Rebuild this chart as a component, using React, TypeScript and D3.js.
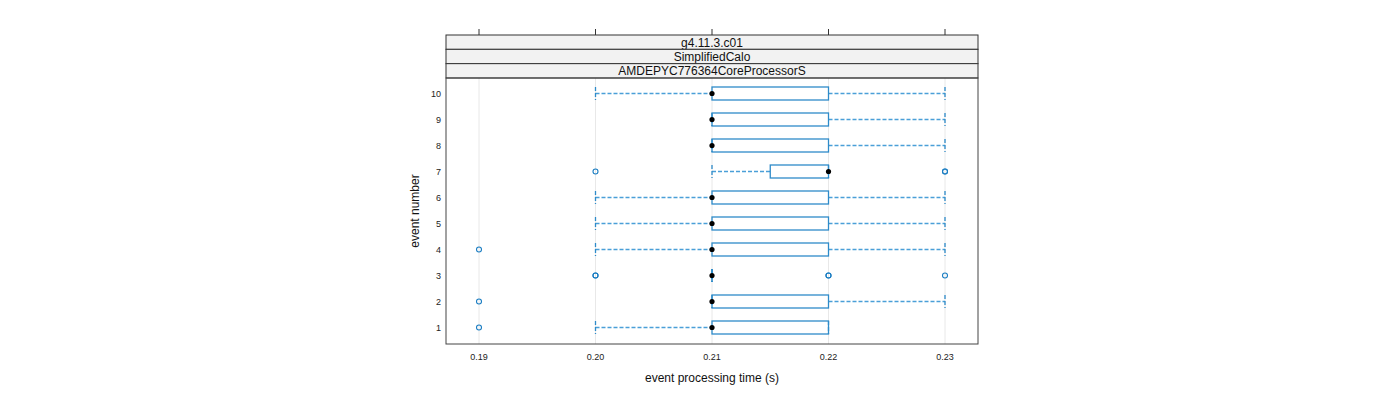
import React from "react";
import * as d3 from "d3";

const events = [1, 2, 3, 4, 5, 6, 7, 8, 9, 10];
const lowerWhisker = [0.2, 0.21, 0.21, 0.2, 0.2, 0.2, 0.21, 0.21, 0.21, 0.2];
const q1 = [0.21, 0.21, 0.21, 0.21, 0.21, 0.21, 0.215, 0.21, 0.21, 0.21];
const medians = [0.21, 0.21, 0.21, 0.21, 0.21, 0.21, 0.22, 0.21, 0.21, 0.21];
const q3 = [0.22, 0.22, 0.21, 0.22, 0.22, 0.22, 0.22, 0.22, 0.22, 0.22];
const upperWhisker = [0.22, 0.23, 0.21, 0.23, 0.23, 0.23, 0.22, 0.23, 0.23, 0.23];
const outliers: number[][] = [
  [0.19],
  [0.19],
  [0.2, 0.2, 0.22, 0.22, 0.23],
  [0.19],
  [],
  [],
  [0.2, 0.23, 0.23],
  [],
  [],
  [],
];
const xTicks = [0.19, 0.2, 0.21, 0.22, 0.23];
const stripLabels = ["g4.11.3.c01", "SimplifiedCalo", "AMDEPYC776364CoreProcessorS"];
const xTitle = "event processing time (s)";
const yTitle = "event number";

const BOX = "#2e8bc9";
const WHISK = "#4a9fd8";
const PT = "#1a7dc2";

export default function App() {
  const left = 446, right = 978, top = 78, bottom = 344;
  const x = d3.scaleLinear().domain([0.19, 0.23]).range([479, 945]);
  const y = d3.scaleLinear().domain([1, 10]).range([327.5, 93.5]);
  const bh = 13;
  const font = "Liberation Sans, Arial, sans-serif";
  return (
    <svg width={1400} height={400} style={{ position: "absolute", left: 0, top: 0 }} fontFamily={font}>
      <rect x={0} y={0} width={1400} height={400} fill="#fff" />
      {xTicks.map((t) => (
        <line key={"g" + t} x1={x(t)} x2={x(t)} y1={top} y2={bottom} stroke="#e8e8e8" strokeWidth={1} />
      ))}
      {xTicks.map((t) => (
        <line key={"tt" + t} x1={x(t)} x2={x(t)} y1={29} y2={35} stroke="#333" strokeWidth={1} />
      ))}
      {stripLabels.map((s, i) => {
        const sy = 35 + i * 14.33;
        return (
          <g key={s}>
            <rect x={left} y={sy} width={right - left} height={14.33} fill="#f2f2f2" stroke="#333" strokeWidth={1} />
            <text x={(left + right) / 2} y={sy + 11.5} fontSize={12} textAnchor="middle" fill="#111">
              {s}
            </text>
          </g>
        );
      })}
      {events.map((e, i) => {
        const cy = y(e);
        const boxW = x(q3[i]) - x(q1[i]);
        return (
          <g key={"b" + e}>
            <line x1={x(lowerWhisker[i])} x2={x(q1[i])} y1={cy} y2={cy} stroke={WHISK} strokeDasharray="4,2" strokeWidth={1.6} />
            <line x1={x(q3[i])} x2={x(upperWhisker[i])} y1={cy} y2={cy} stroke={WHISK} strokeDasharray="4,2" strokeWidth={1.6} />
            <line x1={x(lowerWhisker[i])} x2={x(lowerWhisker[i])} y1={cy - bh / 2} y2={cy + bh / 2} stroke={BOX} strokeDasharray="4,2" strokeWidth={1.3} />
            <line x1={x(upperWhisker[i])} x2={x(upperWhisker[i])} y1={cy - bh / 2} y2={cy + bh / 2} stroke={BOX} strokeDasharray="4,2" strokeWidth={1.3} />
            {boxW > 0 ? (
              <rect x={x(q1[i])} y={cy - bh / 2} width={boxW} height={bh} fill="none" stroke={BOX} strokeWidth={1.3} />
            ) : (
              <line x1={x(q1[i])} x2={x(q1[i])} y1={cy - bh / 2} y2={cy + bh / 2} stroke={BOX} strokeWidth={1.6} />
            )}
            {outliers[i].map((o, j) => (
              <circle key={j} cx={x(o)} cy={cy} r={2.5} fill="none" stroke={PT} strokeWidth={1.1} />
            ))}
            <circle cx={x(medians[i])} cy={cy} r={2.6} fill="#000" />
          </g>
        );
      })}
      <rect x={left} y={top} width={right - left} height={bottom - top} fill="none" stroke="#444" strokeWidth={1} />
      {events.map((e) => (
        <text key={"yl" + e} x={441} y={y(e) + 3} fontSize={9} textAnchor="end" fill="#222">
          {e}
        </text>
      ))}
      {xTicks.map((t) => (
        <text key={"xl" + t} x={x(t)} y={360} fontSize={9} textAnchor="middle" fill="#222">
          {t.toFixed(2)}
        </text>
      ))}
      <text x={(left + right) / 2} y={382} fontSize={12} textAnchor="middle" fill="#111">
        {xTitle}
      </text>
      <text transform={`translate(419,${(top + bottom) / 2}) rotate(-90)`} fontSize={12} textAnchor="middle" fill="#111">
        {yTitle}
      </text>
    </svg>
  );
}
